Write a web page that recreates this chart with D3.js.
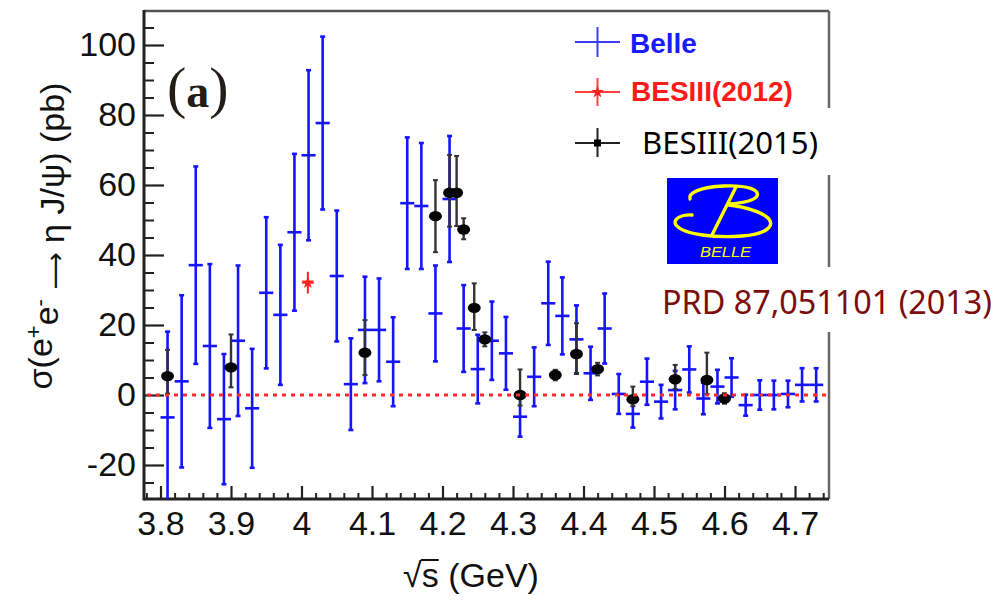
<!DOCTYPE html>
<html>
<head>
<meta charset="utf-8">
<script src="https://cdn.jsdelivr.net/npm/d3@7"></script>
<style>
body { margin: 0; background: #fff; }
</style>
</head>
<body>
<div id="chart"></div>
<script>
// Belle points: sqrt(s) in GeV, cross section in pb, symmetric error
var belleE = [3.81, 3.83, 3.85, 3.87, 3.89, 3.91, 3.93, 3.95, 3.97, 3.99,
              4.01, 4.03, 4.05, 4.07, 4.09, 4.11, 4.13, 4.15, 4.17, 4.19,
              4.21, 4.23, 4.25, 4.27, 4.29, 4.31, 4.33, 4.35, 4.37, 4.39,
              4.41, 4.43, 4.45, 4.47, 4.49, 4.51, 4.53, 4.55, 4.57, 4.59,
              4.61, 4.63, 4.65, 4.67, 4.69, 4.71, 4.73];
var belleV = [-6.4, 3.9, 37.1, 14.0, -6.9, 15.5, -3.8, 29.2, 22.9, 46.5,
              68.5, 77.7, 34.0, 3.1, 18.6, 18.6, 9.5, 54.8, 54.0, 23.3,
              56.0, 19.0, 7.4, 15.5, 11.9, -6.2, 5.2, 26.2, 22.6, 15.9,
              6.2, 19.0, 0.3, -5.4, 3.8, -1.9, 1.4, 7.3, -1.0, 2.4,
              5.0, -2.9, 0.0, 0.0, 0.3, 2.9, 2.9];
var belleErr = [24.5, 24.6, 28.2, 23.4, 18.6, 21.5, 17.0, 21.6, 20.0, 22.4,
                24.3, 24.7, 18.7, 13.1, 15.2, 14.7, 12.7, 18.8, 18.0, 13.7,
                18.0, 12.4, 9.8, 11.2, 10.4, 5.7, 8.4, 11.9, 11.0, 9.7,
                7.6, 10.0, 5.7, 3.9, 6.6, 4.8, 5.5, 6.6, 4.5, 4.8,
                5.5, 3.0, 4.2, 4.1, 3.8, 4.75, 4.75];

// BESIII (2015) points, asymmetric errors
var bes15E  = [3.81, 3.90, 4.09, 4.19, 4.21, 4.22, 4.23, 4.245, 4.26, 4.31, 4.36, 4.39, 4.42, 4.47, 4.53, 4.575, 4.60];
var bes15V  = [5.4, 7.9, 12.1, 51.1, 57.8, 57.8, 47.3, 24.9, 15.9, 0.0, 5.7, 11.7, 7.4, -1.2, 4.5, 4.3, -1.0];
var bes15Up = [7.5, 9.4, 9.3, 10.3, 10.8, 10.5, 3.2, 7.0, 2.0, 7.3, 1.5, 8.8, 1.8, 3.6, 4.1, 7.8, 1.5];
var bes15Dn = [5.0, 5.7, 6.4, 10.3, 9.7, 9.5, 2.8, 6.3, 2.0, 3.0, 1.5, 5.7, 1.8, 2.0, 2.8, 4.0, 1.5];

// BESIII (2012) point
var bes12E = [4.009];
var bes12V = [32.1];
var bes12Err = [3.1];

// axes
var xTicks = [3.8, 3.9, 4.0, 4.1, 4.2, 4.3, 4.4, 4.5, 4.6, 4.7];
var xTickLabels = ["3.8", "3.9", "4", "4.1", "4.2", "4.3", "4.4", "4.5", "4.6", "4.7"];
var yTicks = [-20, 0, 20, 40, 60, 80, 100];
var yTickLabels = ["-20", "0", "20", "40", "60", "80", "100"];
var legendNames = ["Belle", "BESIII(2012)", "BESIII(2015)"];

var W = 998, H = 602;
var plot = {left: 144, right: 829, top: 11, bottom: 499};
var font = "'Liberation Sans', Arial, sans-serif";

var svg = d3.select("#chart").append("svg")
  .attr("width", W).attr("height", H)
  .style("font-family", font);

svg.append("rect").attr("width", W).attr("height", H).attr("fill", "#fff");

var x = d3.scaleLinear().domain([3.7766, 4.7482]).range([plot.left, plot.right]);
var y = d3.scaleLinear().domain([-30, 110]).range([500, 10]);

svg.append("clipPath").attr("id", "clip")
  .append("rect")
  .attr("x", plot.left).attr("y", plot.top)
  .attr("width", plot.right - plot.left).attr("height", plot.bottom - plot.top);

// frame
svg.append("line").attr("x1", plot.left).attr("x2", plot.right).attr("y1", plot.top).attr("y2", plot.top)
  .attr("stroke", "#555").attr("stroke-width", 2.5);
svg.append("line").attr("x1", plot.right).attr("x2", plot.right).attr("y1", plot.top).attr("y2", plot.bottom)
  .attr("stroke", "#666").attr("stroke-width", 2.5);

// y axis (ticks point inward)
var yMinor = d3.range(-25, 110, 5).filter(function(d){ return d % 20 !== 0; });
svg.append("g").attr("transform", "translate(" + plot.left + ",0)")
  .call(d3.axisLeft(y).tickValues(yMinor).tickSizeInner(-10).tickSizeOuter(0).tickFormat(""))
  .call(function(g){ g.select(".domain").remove(); })
  .selectAll("line").attr("stroke", "#222").attr("stroke-width", 2);
var yAxis = svg.append("g").attr("transform", "translate(" + plot.left + ",0)")
  .call(d3.axisLeft(y).tickValues(yTicks).tickSizeInner(-20).tickSizeOuter(0).tickPadding(8)
    .tickFormat(function(d, i){ return yTickLabels[i]; }));
yAxis.select(".domain").remove();
yAxis.selectAll("line").attr("stroke", "#222").attr("stroke-width", 2.2);
yAxis.selectAll("text").attr("fill", "#111").style("font-size", "34px").style("font-family", font);

// x axis
var xMinor = d3.range(3.78, 4.75, 0.02).filter(function(d){
  return Math.abs(Math.round(d * 10) - d * 10) > 0.01;
});
svg.append("g").attr("transform", "translate(0," + plot.bottom + ")")
  .call(d3.axisBottom(x).tickValues(xMinor).tickSizeInner(-6).tickSizeOuter(0).tickFormat(""))
  .call(function(g){ g.select(".domain").remove(); })
  .selectAll("line").attr("stroke", "#222").attr("stroke-width", 2);
var xAxis = svg.append("g").attr("transform", "translate(0," + plot.bottom + ")")
  .call(d3.axisBottom(x).tickValues(xTicks).tickSizeInner(-13).tickSizeOuter(0).tickPadding(12)
    .tickFormat(function(d, i){ return xTickLabels[i]; }));
xAxis.select(".domain").remove();
xAxis.selectAll("line").attr("stroke", "#222").attr("stroke-width", 2.2);
xAxis.selectAll("text").attr("fill", "#111").style("font-size", "34px").style("font-family", font);

// axis lines
svg.append("line").attr("x1", plot.left).attr("x2", plot.left).attr("y1", plot.top - 1).attr("y2", plot.bottom + 1.5)
  .attr("stroke", "#222").attr("stroke-width", 3);
svg.append("line").attr("x1", plot.left).attr("x2", plot.right).attr("y1", plot.bottom).attr("y2", plot.bottom)
  .attr("stroke", "#222").attr("stroke-width", 3);

// axis titles
var yt = svg.append("text")
  .attr("transform", "translate(52,236) rotate(-90)")
  .attr("text-anchor", "middle")
  .style("font-size", "34px").attr("fill", "#111");
yt.append("tspan").text("\u03C3(e");
yt.append("tspan").attr("dy", "-0.5em").style("font-size", "22px").text("+");
yt.append("tspan").attr("dy", "0.5em").text("e");
yt.append("tspan").attr("dy", "-0.5em").style("font-size", "22px").text("-");
yt.append("tspan").attr("dy", "0.5em").text(" ");
yt.append("tspan").style("font-family", "'DejaVu Sans', sans-serif").style("font-size", "26px").text("\u27F6");
yt.append("tspan").text(" \u03B7 J/\u03C8) (pb)");

var xt = svg.append("text").attr("x", 471).attr("y", 587).attr("text-anchor", "middle")
  .style("font-size", "34px").attr("fill", "#111");
xt.append("tspan").text("\u221A");
xt.append("tspan").text("s");
xt.append("tspan").text(" (GeV)");
var xn = xt.node();
var e0 = xn.getExtentOfChar(0), e1 = xn.getExtentOfChar(1);
svg.append("line")
  .attr("x1", e0.x + e0.width - 1).attr("x2", e1.x + e1.width)
  .attr("y1", 587 - 27).attr("y2", 587 - 27)
  .attr("stroke", "#111").attr("stroke-width", 2);

// (a)
var ta = svg.append("text").attr("x", 167).attr("y", 107)
  .style("font-family", "'Liberation Serif', 'Times New Roman', serif")
  .style("font-weight", "bold").attr("fill", "#231d17");
ta.append("tspan").style("font-size", "58px").style("font-weight", "normal").text("(");
ta.append("tspan").style("font-size", "46px").text("a");
ta.append("tspan").style("font-size", "58px").style("font-weight", "normal").text(")");

// data layer
var layer = svg.append("g").attr("clip-path", "url(#clip)");

var belle = belleE.map(function(e, i){ return {e: e, v: belleV[i], err: belleErr[i]}; });
var blue = "#1414ff";
var bg = layer.append("g").attr("stroke", blue).attr("stroke-width", 2.6);
bg.selectAll(".bv").data(belle).enter().append("line")
  .attr("x1", function(d){ return x(d.e); }).attr("x2", function(d){ return x(d.e); })
  .attr("y1", function(d){ return y(d.v - d.err); }).attr("y2", function(d){ return y(d.v + d.err); });
bg.selectAll(".bh").data(belle).enter().append("line")
  .attr("x1", function(d){ return x(d.e - 0.01); }).attr("x2", function(d){ return x(d.e + 0.01); })
  .attr("y1", function(d){ return y(d.v); }).attr("y2", function(d){ return y(d.v); });
bg.selectAll(".bt").data(belle).enter().append("line")
  .attr("x1", function(d){ return x(d.e) - 2.5; }).attr("x2", function(d){ return x(d.e) + 2.5; })
  .attr("y1", function(d){ return y(d.v + d.err); }).attr("y2", function(d){ return y(d.v + d.err); });
bg.selectAll(".bb").data(belle).enter().append("line")
  .attr("x1", function(d){ return x(d.e) - 2.5; }).attr("x2", function(d){ return x(d.e) + 2.5; })
  .attr("y1", function(d){ return y(d.v - d.err); }).attr("y2", function(d){ return y(d.v - d.err); });

// BESIII 2012
var red = "#ff2020";
var b12 = bes12E.map(function(e, i){ return {e: e, v: bes12V[i], err: bes12Err[i]}; });
var rg = layer.append("g");
rg.selectAll(".rv").data(b12).enter().append("line")
  .attr("x1", function(d){ return x(d.e); }).attr("x2", function(d){ return x(d.e); })
  .attr("y1", function(d){ return y(d.v - d.err); }).attr("y2", function(d){ return y(d.v + d.err); })
  .attr("stroke", red).attr("stroke-width", 2);
rg.selectAll(".rh").data(b12).enter().append("line")
  .attr("x1", function(d){ return x(d.e) - 6; }).attr("x2", function(d){ return x(d.e) + 6; })
  .attr("y1", function(d){ return y(d.v); }).attr("y2", function(d){ return y(d.v); })
  .attr("stroke", red).attr("stroke-width", 2);
rg.selectAll(".rs").data(b12).enter().append("path")
  .attr("d", d3.symbol(d3.symbolStar).size(50))
  .attr("transform", function(d){ return "translate(" + x(d.e) + "," + y(d.v) + ")"; })
  .attr("fill", red);

// BESIII 2015
var b15 = bes15E.map(function(e, i){ return {e: e, v: bes15V[i], up: bes15Up[i], dn: bes15Dn[i]}; });
var kg = layer.append("g");
kg.selectAll(".kv").data(b15).enter().append("line")
  .attr("x1", function(d){ return x(d.e); }).attr("x2", function(d){ return x(d.e); })
  .attr("y1", function(d){ return y(d.v - d.dn); }).attr("y2", function(d){ return y(d.v + d.up); })
  .attr("stroke", "#333").attr("stroke-width", 2.4);
kg.selectAll(".kt").data(b15).enter().append("line")
  .attr("x1", function(d){ return x(d.e) - 2.5; }).attr("x2", function(d){ return x(d.e) + 2.5; })
  .attr("y1", function(d){ return y(d.v + d.up); }).attr("y2", function(d){ return y(d.v + d.up); })
  .attr("stroke", "#333").attr("stroke-width", 2);
kg.selectAll(".kb").data(b15).enter().append("line")
  .attr("x1", function(d){ return x(d.e) - 2.5; }).attr("x2", function(d){ return x(d.e) + 2.5; })
  .attr("y1", function(d){ return y(d.v - d.dn); }).attr("y2", function(d){ return y(d.v - d.dn); })
  .attr("stroke", "#333").attr("stroke-width", 2);
kg.selectAll(".km").data(b15).enter().append("ellipse")
  .attr("cx", function(d){ return x(d.e); }).attr("cy", function(d){ return y(d.v); })
  .attr("rx", 6.5).attr("ry", 5.2).attr("fill", "#050505");

// zero line
layer.append("line")
  .attr("x1", plot.left + 3).attr("x2", plot.right - 1)
  .attr("y1", y(0)).attr("y2", y(0))
  .attr("stroke", "#ff2a2a").attr("stroke-width", 3).attr("stroke-dasharray", "4,5");

// legend (original)
var leg = svg.append("g");
leg.append("line").attr("x1", 575).attr("x2", 620).attr("y1", 42).attr("y2", 42).attr("stroke", "#3c3cff").attr("stroke-width", 2);
leg.append("line").attr("x1", 597.5).attr("x2", 597.5).attr("y1", 27).attr("y2", 57).attr("stroke", "#3c3cff").attr("stroke-width", 2);
leg.append("text").attr("x", 630).attr("y", 53).text(legendNames[0])
  .style("font-size", "28px").style("font-weight", "bold").attr("fill", "#1a1aff");
leg.append("line").attr("x1", 575).attr("x2", 620).attr("y1", 92).attr("y2", 92).attr("stroke", "#ff4040").attr("stroke-width", 2);
leg.append("line").attr("x1", 597.5).attr("x2", 597.5).attr("y1", 78).attr("y2", 106).attr("stroke", "#ff4040").attr("stroke-width", 2);
leg.append("path").attr("d", d3.symbol(d3.symbolStar).size(50)).attr("transform", "translate(597.5,92)").attr("fill", red);
leg.append("text").attr("x", 631).attr("y", 101).text(legendNames[1])
  .style("font-size", "28px").style("font-weight", "bold").attr("fill", "#ff1a1a");

// pasted white boxes over the frame
svg.append("rect").attr("x", 565).attr("y", 108).attr("width", 433).attr("height", 67).attr("fill", "#fff");
svg.append("rect").attr("x", 640).attr("y", 267).attr("width", 358).attr("height", 65).attr("fill", "#fff");

// BESIII(2015) legend entry
leg = svg.append("g");
leg.append("line").attr("x1", 575).attr("x2", 620).attr("y1", 143).attr("y2", 143).attr("stroke", "#222").attr("stroke-width", 2);
leg.append("line").attr("x1", 597.5).attr("x2", 597.5).attr("y1", 128).attr("y2", 157).attr("stroke", "#222").attr("stroke-width", 2);
leg.append("rect").attr("x", 594).attr("y", 139.5).attr("width", 7).attr("height", 7).attr("fill", "#000");
leg.append("text").attr("x", 642).attr("y", 154).text(legendNames[2])
  .attr("textLength", 176).attr("lengthAdjust", "spacingAndGlyphs")
  .style("font-family", "'Noto Sans', 'Open Sans', sans-serif").style("font-size", "30px").attr("fill", "#000");

// Belle logo
var logo = svg.append("g");
logo.append("rect").attr("x", 667).attr("y", 178).attr("width", 111).attr("height", 86).attr("fill", "#0000ff");
var lp = logo.append("g").attr("fill", "none").attr("stroke", "#ffff00").attr("stroke-width", 3.4).attr("stroke-linecap", "round");
lp.append("path").attr("d", "M690,199 C688,193 700,187 724,186 C748,185 760,190 757,196 C754,201 742,203 729,204");
lp.append("path").attr("d", "M692,215 C682,214 672,219 676,225 C684,235 716,238 742,236 C766,234 776,226 768,218 C760,211 744,207 729,205");
lp.append("path").attr("d", "M736,187 L712,235");
logo.append("text").attr("x", 700).attr("y", 257).text("BELLE")
  .attr("textLength", 51).attr("lengthAdjust", "spacingAndGlyphs")
  .style("font-size", "15px").style("font-style", "italic").attr("fill", "#ffff00");

// reference text
svg.append("text").attr("x", 662).attr("y", 314).text("PRD 87,051101 (2013)")
  .attr("textLength", 330).attr("lengthAdjust", "spacingAndGlyphs")
  .style("font-family", "'Noto Sans', 'Open Sans', sans-serif").style("font-size", "33px").attr("fill", "#7d0c0c");
</script>
</body>
</html>
